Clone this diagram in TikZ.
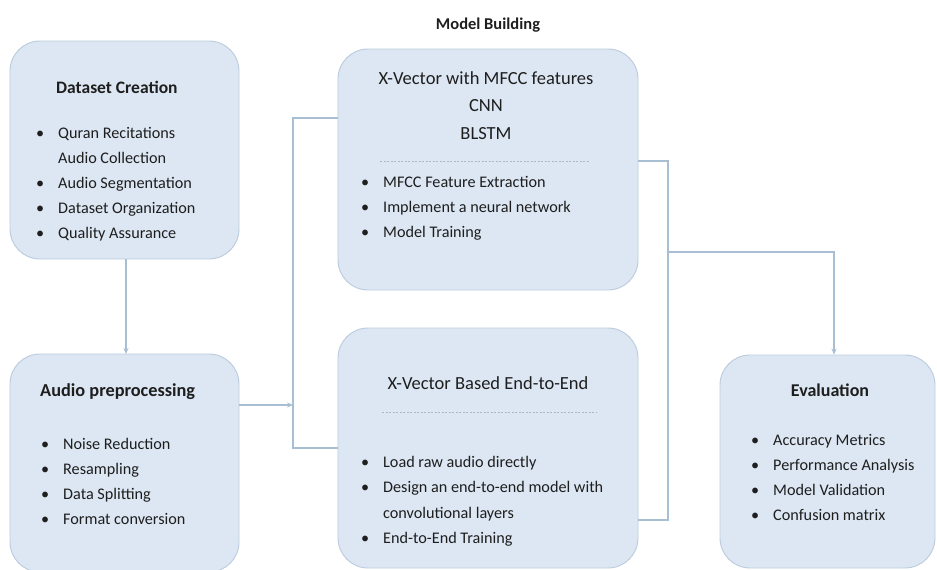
\documentclass[tikz,border=0pt]{standalone}
\usepackage{fontspec}
\setmainfont{Carlito}
\usetikzlibrary{arrows.meta}
\definecolor{boxfill}{HTML}{DCE7F3}
\definecolor{boxline}{HTML}{BACBDD}
\definecolor{conn}{HTML}{A8BED3}
\definecolor{txt}{HTML}{1E1E1E}
\definecolor{sepcol}{HTML}{B0B6BE}
\newcommand{\bl}{\llap{\makebox[22pt][l]{\textbullet}}}
\tikzset{
  card/.style={draw=boxline, line width=0.9pt, fill=boxfill, rounded corners=30pt, inner sep=0pt},
  conline/.style={draw=conn, line width=1.3pt},
  tip/.style={-{Stealth[length=6pt,width=5pt]}},
  ttl/.style={font=\fontsize{17.5}{21}\selectfont\bfseries, text=txt, inner sep=0pt},
  mtl/.style={font=\fontsize{18.5}{27.5}\selectfont, text=txt, inner sep=0pt, align=center},
  lst/.style={font=\fontsize{16.2}{25}\selectfont, text=txt, inner sep=0pt, align=left, anchor=base west},
  sep/.style={draw=sepcol, line width=0.8pt, dash pattern=on 2pt off 1.5pt}
}
\begin{document}
\begin{tikzpicture}[x=1pt,y=-1pt]
\useasboundingbox (0,0) rectangle (937,570);
% boxes
\node[card, minimum width=229pt, minimum height=218pt] (dc) at (124.5,150) {};
\node[card, minimum width=229pt, minimum height=218pt] (ap) at (124.5,463) {};
\node[card, minimum width=300pt, minimum height=241pt] (m1) at (488,169.5) {};
\node[card, minimum width=300pt, minimum height=240pt] (m2) at (488,448) {};
\node[card, minimum width=215pt, minimum height=213pt] (ev) at (827.5,461.5) {};
% heading
\node[ttl, font=\fontsize{16.5}{20}\selectfont\bfseries, anchor=base] (mb) at (488,29) {Model Building};
% Dataset creation
\node[ttl, anchor=base west] (dct) at (56,93) {Dataset Creation};
\node[lst] (dcl) at (58,238) {\bl Quran Recitations\\ Audio Collection\\ \bl Audio Segmentation\\ \bl Dataset Organization\\ \bl Quality Assurance};
% Audio preprocessing
\node[ttl, font=\fontsize{18.3}{22}\selectfont\bfseries, anchor=base west] (apt) at (40,396) {Audio preprocessing};
\node[lst] (apl) at (63,524) {\bl Noise Reduction\\ \bl Resampling\\ \bl Data Splitting\\ \bl Format conversion};
% Model 1
\node[mtl, anchor=base] (m1t) at (486,139) {X-Vector with MFCC features\\ CNN\\ BLSTM};
\draw[sep] (380,161) -- (590,161);
\node[lst] (m1l) at (383,237) {\bl MFCC Feature Extraction\\ \bl Implement a neural network\\ \bl Model Training};
% Model 2
\node[mtl, anchor=base] (m2t) at (488,389) {X-Vector Based End-to-End};
\draw[sep] (382,412) -- (597,412);
\node[lst, font=\fontsize{16.2}{25.5}\selectfont] (m2l) at (383,543.5) {\bl Load raw audio directly\\ \bl Design an end-to-end model with\\ convolutional layers\\ \bl End-to-End Training};
% Evaluation
\node[ttl, font=\fontsize{18}{22}\selectfont\bfseries, anchor=base] (evt) at (830,396) {Evaluation};
\node[lst] (evl) at (773,520) {\bl Accuracy Metrics\\ \bl Performance Analysis\\ \bl Model Validation\\ \bl Confusion matrix};
% connectors
\coordinate (jl) at (293,405);
\coordinate (bt) at (293,118);
\coordinate (bb) at (293,448);
\coordinate (rt) at (668,161);
\coordinate (rb) at (668,520);
\coordinate (rm) at (668,252);
\coordinate (et) at (834,252);
\draw[conline, tip] (126,259) -- (126,354);
\draw[conline, tip] (ap.east |- jl) -- (jl);
\draw[conline] (m1.west |- bt) -- (bt) -- (bb) -- (m2.west |- bb);
\draw[conline] (m1.east |- rt) -- (rt) -- (rb) -- (m2.east |- rb);
\draw[conline, tip] (rm) -- (et) -- (et |- ev.north);
\end{tikzpicture}
\end{document}
